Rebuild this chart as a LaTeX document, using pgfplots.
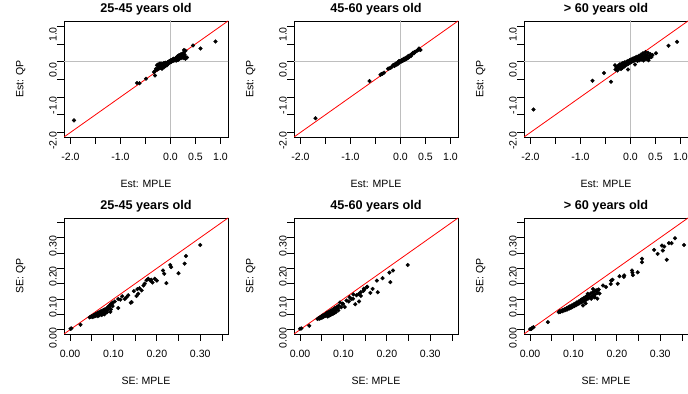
\documentclass[border=0pt]{standalone}
\usepackage{fontspec}
\setmainfont{Liberation Sans}
\usepackage{pgfplots}
\pgfplotsset{compat=1.18}
\definecolor{rgray}{RGB}{190,190,190}
\definecolor{rred}{RGB}{255,0,0}
\newcommand{\lblfont}{\fontsize{10.6}{12}\selectfont}
\newcommand{\ttlfont}{\fontsize{12.7}{14}\selectfont\bfseries}
\pgfplotsset{
  base/.style={
    scale only axis, width=164bp, height=116bp,
    anchor=south west,
    axis line style={line width=0.8bp},
    every tick/.style={black, line width=0.8bp},
    tick align=outside, major tick length=7bp,
    xtick pos=bottom, ytick pos=left,
    tick label style={font=\lblfont},
    label style={font=\lblfont},
    /pgf/number format/assume math mode=true,
    xticklabel style={anchor=north, inner sep=0pt, yshift=-9bp},
    yticklabel style={rotate=90, anchor=south, inner sep=0pt, xshift=-8.2bp},
    xlabel style={at={(axis description cs:0.5,-0.4328)}, anchor=base},
    ylabel style={at={(axis description cs:-0.248,0.5)}, anchor=base, rotate=0},
    every axis title shift=0pt,
    title style={at={(axis description cs:0.5,1.0716)}, anchor=base, yshift=0pt, font=\ttlfont},
    clip=true,
  },
  est/.style={base,
    xmin=-2.13, xmax=1.15, ymin=-2.13, ymax=1.15,
    xtick={-2,-1.5,-1,-0.5,0,0.5,1},
    xticklabels={-2.0,,-1.0,,0.0,0.5,1.0},
    ytick={-2,-1.5,-1,-0.5,0,0.5,1},
    yticklabels={-2.0,,-1.0,,0.0,,1.0},
    xlabel={Est: MPLE}, ylabel={Est: QP},
  },
  se/.style={base,
    xmin=-0.014, xmax=0.364, ymin=-0.014, ymax=0.364,
    xtick={0,0.05,0.1,0.15,0.2,0.25,0.3,0.35},
    xticklabels={0.00,,0.10,,0.20,,0.30,},
    ytick={0,0.05,0.1,0.15,0.2,0.25,0.3,0.35},
    yticklabels={0.00,,0.10,,0.20,,0.30,},
    xlabel={SE: MPLE}, ylabel={SE: QP},
  },
  pts/.style={only marks, mark=*, mark size=1.85bp, black, mark options={draw=black, fill=black}},
  refl/.style={rred, line width=0.8bp, no marks},
  zerol/.style={rgray, line width=0.8bp, no marks},
}

\pgfplotstableread{
x y
-1.93 -1.66
0.90 0.57
0.60 0.37
0.45 0.46
-0.67 -0.60
-0.62 -0.61
-0.49 -0.48
-0.31 -0.39
-0.33 -0.29
0.27 0.33
0.30 0.31
0.33 0.12
-0.30 -0.25
-0.29 -0.20
-0.27 -0.10
-0.26 -0.22
-0.25 -0.08
-0.24 -0.15
-0.23 -0.19
-0.22 -0.06
-0.21 -0.12
-0.20 -0.17
-0.20 -0.09
-0.19 -0.05
-0.18 -0.14
-0.17 -0.20
-0.17 -0.08
-0.16 -0.11
-0.15 -0.06
-0.15 -0.13
-0.14 -0.09
-0.13 -0.04
-0.13 -0.16
-0.12 -0.10
-0.11 -0.07
-0.10 -0.12
-0.10 -0.03
-0.09 -0.08
-0.08 -0.05
-0.07 -0.10
-0.06 -0.02
-0.05 -0.06
-0.04 0.00
-0.03 -0.04
-0.02 0.02
-0.01 -0.02
0.00 0.01
0.01 0.05
0.02 0.00
0.03 0.03
0.04 0.06
0.05 0.02
0.06 0.08
0.07 0.04
0.08 0.07
0.09 0.03
0.10 0.10
0.11 0.06
0.12 0.12
0.12 0.03
0.13 0.08
0.14 0.15
0.15 0.05
0.16 0.11
0.17 0.18
0.18 0.08
0.19 0.13
0.20 0.20
0.21 0.10
0.22 0.15
0.23 0.22
0.24 0.12
0.25 0.17
0.26 0.25
0.27 0.10
0.28 0.20
0.29 0.15
0.30 0.08
}\estA

\pgfplotstableread{
x y
-1.70 -1.60
-0.62 -0.55
-0.40 -0.37
-0.38 -0.35
-0.36 -0.34
-0.33 -0.31
-0.25 -0.20
-0.23 -0.19
-0.20 -0.17
-0.18 -0.16
-0.15 -0.10
-0.13 -0.09
-0.12 -0.12
-0.10 -0.06
-0.09 -0.09
-0.08 -0.05
-0.07 -0.08
-0.06 -0.04
-0.05 -0.02
-0.04 -0.05
-0.03 0.02
-0.02 -0.01
-0.01 0.01
0.00 0.02
0.01 0.00
0.02 0.03
0.03 0.05
0.04 0.02
0.05 0.06
0.06 0.04
0.07 0.08
0.08 0.05
0.09 0.09
0.10 0.07
0.11 0.11
0.12 0.08
0.13 0.12
0.14 0.10
0.15 0.15
0.16 0.12
0.17 0.17
0.18 0.14
0.20 0.19
0.21 0.16
0.22 0.21
0.24 0.22
0.25 0.25
0.27 0.24
0.28 0.27
0.30 0.28
0.33 0.31
0.35 0.33
0.37 0.37
0.39 0.34
0.40 0.33
}\estB

\pgfplotstableread{
x y
-1.94 -1.35
-0.76 -0.54
-0.53 -0.32
-0.39 -0.57
0.76 0.45
0.93 0.56
0.51 0.24
-0.31 -0.10
-0.05 -0.22
0.09 -0.08
-0.30 -0.22
-0.28 -0.16
-0.26 -0.25
-0.25 -0.12
-0.23 -0.19
-0.22 -0.08
-0.20 -0.14
-0.19 -0.21
-0.18 -0.06
-0.17 -0.11
-0.16 -0.17
-0.15 -0.04
-0.14 -0.09
-0.13 -0.14
-0.12 -0.02
-0.11 -0.07
-0.10 -0.11
-0.09 -0.04
-0.08 0.00
-0.07 -0.08
-0.06 -0.03
-0.05 0.02
-0.04 -0.06
-0.03 0.00
-0.02 0.04
-0.01 -0.03
0.00 0.02
0.01 0.06
0.02 -0.01
0.03 0.04
0.04 0.08
0.05 0.01
0.06 0.06
0.07 0.10
0.08 0.03
0.09 0.08
0.10 0.12
0.11 0.05
0.12 0.09
0.13 0.14
0.14 0.02
0.15 0.07
0.16 0.11
0.17 0.17
0.18 0.04
0.19 0.09
0.20 0.14
0.21 0.20
0.22 0.06
0.23 0.11
0.24 0.16
0.25 0.24
0.26 0.03
0.27 0.09
0.28 0.14
0.29 0.20
0.30 0.27
0.31 0.07
0.32 0.12
0.33 0.18
0.35 0.25
0.36 0.04
0.37 0.10
0.38 0.16
0.40 0.21
0.42 0.13
0.44 0.19
}\estC

\pgfplotstableread{
x y
0.300 0.276
0.267 0.240
0.264 0.215
0.250 0.184
0.231 0.211
0.233 0.204
0.214 0.193
0.217 0.182
0.222 0.152
0.200 0.160
0.187 0.163
0.190 0.154
0.176 0.161
0.180 0.166
0.169 0.144
0.165 0.128
0.157 0.117
0.153 0.110
0.147 0.126
0.142 0.090
0.140 0.088
0.130 0.106
0.126 0.100
0.134 0.112
0.120 0.109
0.111 0.071
0.116 0.098
0.111 0.100
0.103 0.092
0.098 0.088
0.095 0.085
0.092 0.069
0.093 0.058
0.155 0.132
0.160 0.135
0.172 0.150
0.185 0.160
0.195 0.166
0.024 0.016
0.001 0.003
0.003 0.004
0.045 0.040
0.048 0.042
0.050 0.044
0.052 0.041
0.054 0.047
0.055 0.043
0.057 0.049
0.058 0.045
0.060 0.052
0.060 0.046
0.062 0.048
0.063 0.054
0.064 0.044
0.065 0.050
0.066 0.056
0.067 0.047
0.068 0.053
0.069 0.058
0.070 0.050
0.071 0.060
0.072 0.055
0.073 0.048
0.074 0.062
0.075 0.057
0.076 0.052
0.077 0.064
0.078 0.059
0.079 0.050
0.080 0.066
0.081 0.061
0.082 0.055
0.083 0.068
0.084 0.063
0.085 0.057
0.086 0.070
0.087 0.065
0.088 0.075
0.090 0.072
0.091 0.078
0.093 0.081
0.094 0.066
0.096 0.083
0.098 0.077
}\seA

\pgfplotstableread{
x y
0.248 0.211
0.214 0.193
0.206 0.186
0.208 0.155
0.190 0.168
0.177 0.160
0.179 0.122
0.167 0.133
0.162 0.120
0.155 0.140
0.147 0.134
0.146 0.127
0.140 0.110
0.136 0.092
0.127 0.083
0.135 0.116
0.123 0.115
0.118 0.100
0.112 0.092
0.103 0.074
0.098 0.085
0.088 0.063
0.154 0.139
0.148 0.131
0.140 0.122
0.130 0.112
0.122 0.101
0.114 0.106
0.107 0.095
0.099 0.084
0.095 0.073
0.092 0.089
0.021 0.013
0.000 0.003
0.003 0.004
0.040 0.035
0.042 0.037
0.044 0.039
0.045 0.036
0.047 0.041
0.048 0.038
0.050 0.044
0.051 0.040
0.052 0.046
0.054 0.042
0.055 0.048
0.056 0.044
0.058 0.050
0.059 0.045
0.060 0.052
0.061 0.047
0.062 0.055
0.063 0.049
0.064 0.043
0.065 0.057
0.066 0.051
0.067 0.046
0.068 0.059
0.069 0.053
0.070 0.048
0.071 0.062
0.072 0.056
0.073 0.050
0.074 0.064
0.075 0.058
0.076 0.052
0.077 0.067
0.078 0.061
0.079 0.055
0.080 0.070
0.081 0.063
0.082 0.057
0.083 0.072
0.084 0.066
0.086 0.075
0.087 0.069
0.089 0.078
}\seB

\pgfplotstableread{
x y
0.334 0.298
0.355 0.276
0.320 0.282
0.326 0.282
0.304 0.274
0.309 0.271
0.306 0.258
0.286 0.260
0.294 0.247
0.315 0.228
0.258 0.231
0.258 0.220
0.248 0.187
0.235 0.193
0.236 0.186
0.237 0.178
0.217 0.177
0.216 0.172
0.202 0.150
0.206 0.174
0.187 0.160
0.186 0.149
0.190 0.163
0.168 0.144
0.175 0.139
0.157 0.130
0.160 0.118
0.149 0.106
0.122 0.079
0.041 0.025
0.003 0.003
0.005 0.006
0.008 0.008
0.000 0.002
0.066 0.057
0.068 0.060
0.070 0.058
0.072 0.062
0.074 0.060
0.076 0.065
0.078 0.062
0.080 0.067
0.082 0.064
0.084 0.070
0.086 0.066
0.088 0.073
0.090 0.069
0.092 0.076
0.094 0.071
0.096 0.079
0.098 0.074
0.100 0.082
0.102 0.077
0.104 0.085
0.106 0.080
0.108 0.089
0.110 0.083
0.112 0.092
0.114 0.086
0.116 0.096
0.118 0.089
0.120 0.100
0.122 0.092
0.124 0.103
0.126 0.095
0.128 0.107
0.130 0.098
0.132 0.110
0.134 0.102
0.136 0.114
0.138 0.105
0.140 0.118
0.142 0.108
0.144 0.121
0.146 0.112
0.148 0.125
0.150 0.115
0.152 0.128
0.155 0.120
0.158 0.131
0.141 0.101
0.148 0.106
0.155 0.101
0.128 0.086
0.133 0.117
0.145 0.133
0.153 0.128
}\seC

\begin{document}
\begin{tikzpicture}
\useasboundingbox (0,0) rectangle (688bp,394bp);
% top row
\begin{axis}[est, at={(64bp,257bp)}, title={25-45 years old}]
\addplot[zerol] coordinates {(0,-3) (0,2)};
\addplot[zerol] coordinates {(-3,0) (2,0)};
\addplot[pts] table {\estA};
\addplot[refl] coordinates {(-3,-3) (2,2)};
\end{axis}
\begin{axis}[est, at={(294bp,257bp)}, title={45-60 years old}]
\addplot[zerol] coordinates {(0,-3) (0,2)};
\addplot[zerol] coordinates {(-3,0) (2,0)};
\addplot[pts] table {\estB};
\addplot[refl] coordinates {(-3,-3) (2,2)};
\end{axis}
\begin{axis}[est, at={(524bp,257bp)}, title={> 60 years old}]
\addplot[zerol] coordinates {(0,-3) (0,2)};
\addplot[zerol] coordinates {(-3,0) (2,0)};
\addplot[pts] table {\estC};
\addplot[refl] coordinates {(-3,-3) (2,2)};
\end{axis}
% bottom row
\begin{axis}[se, at={(64bp,60bp)}, title={25-45 years old}]
\addplot[pts] table {\seA};
\addplot[refl] coordinates {(-1,-1) (1,1)};
\end{axis}
\begin{axis}[se, at={(294bp,60bp)}, title={45-60 years old}]
\addplot[pts] table {\seB};
\addplot[refl] coordinates {(-1,-1) (1,1)};
\end{axis}
\begin{axis}[se, at={(524bp,60bp)}, title={> 60 years old}]
\addplot[pts] table {\seC};
\addplot[refl] coordinates {(-1,-1) (1,1)};
\end{axis}
\end{tikzpicture}
\end{document}
